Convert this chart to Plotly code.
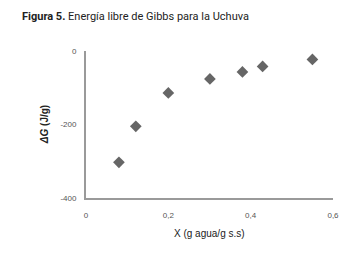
import plotly.graph_objects as go

x_vals = [0.080, 0.121, 0.200, 0.301, 0.380, 0.429, 0.550]
dg_vals = [-303, -205, -114, -76, -57, -42, -23]
x_ticks = [0, 0.2, 0.4, 0.6]
x_tick_labels = ["0", "0,2", "0,4", "0,6"]
y_ticks = [0, -200, -400]
y_tick_labels = ["0", "-200", "-400"]

fig = go.Figure()
fig.add_trace(go.Scatter(
    x=x_vals, y=dg_vals, mode="markers",
    marker=dict(symbol="diamond", size=9, color="#666666"),
    showlegend=False, cliponaxis=False,
))

axis_common = dict(showgrid=False, zeroline=False, showline=True,
                   linecolor="#9a9a9a", linewidth=2, ticks="", ticklen=0,
                   tickfont=dict(family="Liberation Sans, Arial, sans-serif", size=8, color="#555555"))

# the page body has an 8px default margin, so the figure is sized/offset to compensate
fig.update_layout(
    width=356, height=248,
    margin=dict(l=78, r=31, t=43, b=58),
    paper_bgcolor="white", plot_bgcolor="white",
    xaxis=dict(range=[0, 0.6], tickvals=x_ticks, ticktext=x_tick_labels, **axis_common),
    yaxis=dict(range=[-400, 0], tickvals=y_ticks, ticktext=y_tick_labels, **axis_common),
    annotations=[
        dict(text="<b>Figura 5.</b> Energía libre de Gibbs para la Uchuva",
             xref="paper", yref="paper", x=-0.267, y=1.238, xanchor="left", yanchor="middle",
             showarrow=False,
             font=dict(family="Liberation Sans Narrow, Arial Narrow, Roboto, sans-serif", size=11, color="#222222")),
        dict(text="X (g agua/g s.s)", xref="paper", yref="paper", x=0.5, y=-0.24,
             xanchor="center", yanchor="middle", showarrow=False,
             font=dict(family="Liberation Sans, Arial, sans-serif", size=10, color="#222222")),
        dict(text="<b><i>ΔG</i> (J/g)</b>", xref="paper", yref="paper", x=-0.165, y=0.497,
             xanchor="center", yanchor="middle", showarrow=False, textangle=-90,
             font=dict(family="Liberation Sans, Arial, sans-serif", size=10, color="#222222")),
    ],
)
fig.update_xaxes(ticklabelstandoff=8)
fig.update_yaxes(ticklabelstandoff=6)

fig.write_html("out.html")
